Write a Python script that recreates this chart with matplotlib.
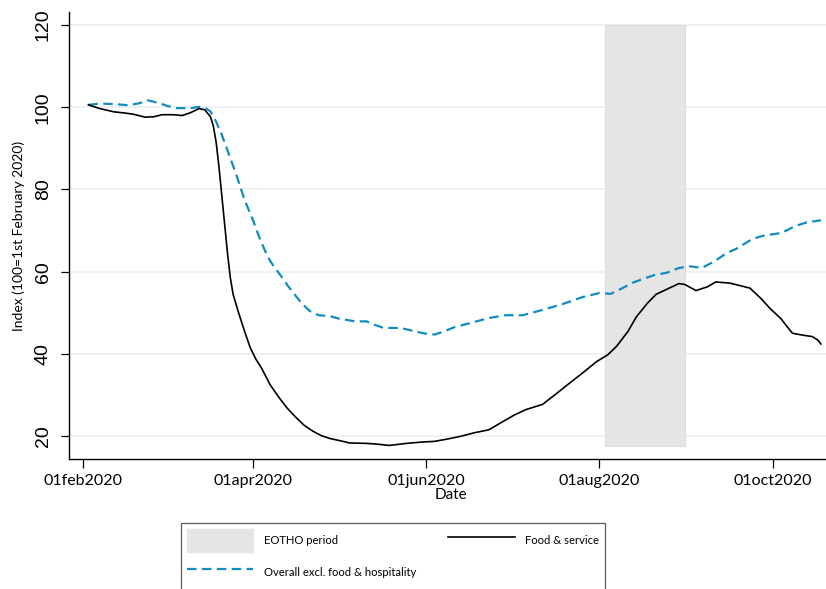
import numpy as np
import pandas as pd
import matplotlib
matplotlib.use("Agg")
import matplotlib.pyplot as plt
from matplotlib.patches import Patch
from matplotlib.lines import Line2D

base_date = "2020-02-01"

days_food = [2, 6, 11, 15, 18, 22, 25, 28, 32, 35, 38, 41, 43, 45, 46, 47, 48, 49, 50, 51,
             52, 53, 55, 57, 59, 61, 63, 66, 69, 72, 75, 78, 81, 84, 87, 91, 94, 100, 104,
             108, 114, 119, 124, 128, 133, 138, 143, 147, 152, 156, 162, 167, 171, 176,
             181, 185, 188, 192, 195, 199, 202, 206, 210, 212, 216, 220, 223, 228, 235,
             239, 242, 246, 248, 250, 254, 257, 259, 260]
food_service = [100.6, 99.7, 98.9, 98.6, 98.3, 97.6, 97.7, 98.2, 98.2, 98.0, 98.7, 99.7,
                99.4, 97.7, 95.5, 91.5, 85.5, 78.5, 71.5, 64.5, 58.5, 54.4, 49.8, 45.5,
                41.5, 38.7, 36.5, 32.5, 29.5, 26.8, 24.6, 22.6, 21.2, 20.1, 19.4, 18.8,
                18.3, 18.2, 18.0, 17.7, 18.2, 18.5, 18.7, 19.2, 19.9, 20.8, 21.5, 23.1,
                25.1, 26.4, 27.7, 30.4, 32.6, 35.3, 38.1, 39.8, 41.8, 45.4, 49.0, 52.4,
                54.5, 55.8, 57.1, 56.9, 55.4, 56.3, 57.5, 57.2, 56.0, 53.4, 51.1, 48.5,
                46.7, 45.0, 44.5, 44.2, 43.3, 42.4]

days_overall = [2, 6, 11, 16, 20, 23, 27, 30, 33, 38, 41, 43, 45, 47, 49, 51, 54, 57, 60,
                62, 65, 67, 70, 72, 74, 77, 80, 83, 87, 90, 96, 100, 103, 106, 112, 118,
                121, 124, 127, 131, 136, 143, 149, 155, 162, 169, 176, 182, 186, 189, 194,
                201, 206, 210, 214, 218, 222, 227, 230, 236, 240, 246, 251, 255, 259, 260]
overall_excl = [100.6, 100.9, 100.8, 100.5, 101.0, 101.7, 101.0, 100.3, 99.8, 99.8, 100.1,
                99.9, 99.0, 96.5, 93.3, 89.5, 83.8, 77.5, 72.5, 68.7, 63.8, 61.6, 58.8,
                56.8, 55.0, 52.4, 50.4, 49.4, 49.2, 48.6, 47.9, 47.9, 47.0, 46.3, 46.3,
                45.3, 44.9, 44.7, 45.4, 46.5, 47.4, 48.7, 49.4, 49.4, 50.7, 52.1, 53.8,
                54.8, 54.6, 55.6, 57.4, 59.1, 59.8, 60.9, 61.3, 60.9, 62.3, 64.6, 65.5,
                68.0, 68.8, 69.4, 71.1, 72.0, 72.4, 72.5]

eotho_start = "2020-08-03"
eotho_end = "2020-08-31"
eotho_low, eotho_high = 17.5, 120

xtick_dates = ["2020-02-01", "2020-04-01", "2020-06-01", "2020-08-01", "2020-10-01"]
xtick_labels = ["01feb2020", "01apr2020", "01jun2020", "01aug2020", "01oct2020"]
yticks = [20, 40, 60, 80, 100, 120]

base = pd.Timestamp(base_date)
d_food = base + pd.to_timedelta(days_food, unit="D")
d_over = base + pd.to_timedelta(days_overall, unit="D")

fig = plt.figure(figsize=(8.26, 5.89), dpi=100)
ax = fig.add_axes([68.5 / 826, 1 - 459 / 589, (826 - 68.5) / 826, (459 - 12) / 589])

for y in yticks:
    ax.axhline(y, color="#eaf0f2", lw=1.3, zorder=0)

ax.fill_between([pd.Timestamp(eotho_start), pd.Timestamp(eotho_end)], eotho_low, eotho_high,
                facecolor="#e5e5e5", edgecolor="#dcdcdc", lw=0.8, zorder=1)

blue = "#108cc0"
ax.plot(d_over, overall_excl, color=blue, lw=1.6, dashes=(4.3, 2.4), zorder=3)
ax.plot(d_food, food_service, color="black", lw=1.2, zorder=4)

ax.set_xlim(base - pd.Timedelta(days=5.0), base + pd.Timedelta(days=261.8))
ax.set_ylim(14.4, 123.2)

ax.spines["top"].set_visible(False)
ax.spines["right"].set_visible(False)
ax.spines["left"].set_linewidth(1.0)
ax.spines["bottom"].set_linewidth(1.0)

ax.set_xticks([pd.Timestamp(d) for d in xtick_dates])
ax.set_xticklabels(xtick_labels, fontfamily="Lato", fontsize=11.5)
ax.set_yticks(yticks)
ax.set_yticklabels([str(v) for v in yticks], fontfamily="Liberation Sans", fontsize=14,
                   rotation=90, va="center")
ax.tick_params(axis="x", length=6.5, width=0.9, pad=4)
ax.tick_params(axis="y", length=6, width=0.9, pad=6)

ax.set_xlabel("Date", fontfamily="Lato", fontsize=11, labelpad=-2)
ax.xaxis.set_label_coords(0.505, -0.065)
ax.set_ylabel("Index (100=1st February 2020)", fontfamily="Lato", fontsize=10)
ax.yaxis.set_label_coords(-0.058, 0.5)

handles = [Patch(facecolor="#e5e5e5", edgecolor="#e5e5e5"),
           Line2D([], [], color=blue, lw=1.6, dashes=(4.3, 2.4)),
           Line2D([], [], color="black", lw=1.2)]
labels = ["EOTHO period", "Overall excl. food & hospitality", "Food & service"]
fs = 8.1
leg = fig.legend(handles, labels, ncol=2, loc="upper left",
                 bbox_to_anchor=(180.7 / 826, 1 - 522.7 / 589),
                 prop={"family": "Lato", "size": fs},
                 handlelength=5.87, handleheight=2.7, handletextpad=0.9,
                 columnspacing=2.9, labelspacing=0.85, borderpad=0.6,
                 borderaxespad=0, fancybox=False, frameon=True)
leg.get_frame().set_edgecolor("#333333")
leg.get_frame().set_linewidth(0.9)

fig.savefig("out.png", dpi=100)
